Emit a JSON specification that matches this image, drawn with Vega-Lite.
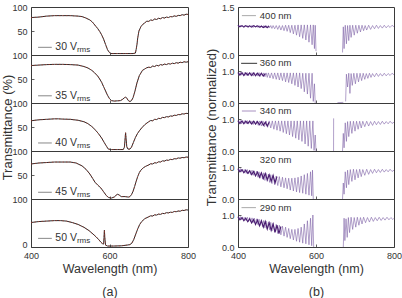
{
"$schema":"https://vega.github.io/schema/vega-lite/v6.json",
"padding":{"left":1,"top":2,"right":0,"bottom":0},
"columns":2,
"spacing":{"row":0,"column":50},
"bounds":"flush",
"datasets":{
"A":[
{"p":"30","w":400,"t":78},{"p":"30","w":420,"t":79},{"p":"30","w":440,"t":81},{"p":"30","w":460,"t":82},{"p":"30","w":480,"t":82},{"p":"30","w":500,"t":82},{"p":"30","w":510,"t":81.5},{"p":"30","w":520,"t":81},{"p":"30","w":530,"t":80},{"p":"30","w":540,"t":77},{"p":"30","w":550,"t":73},{"p":"30","w":556,"t":69},{"p":"30","w":560,"t":65},{"p":"30","w":565,"t":60},{"p":"30","w":570,"t":55},{"p":"30","w":575,"t":49},{"p":"30","w":580,"t":42},{"p":"30","w":585,"t":33},{"p":"30","w":590,"t":22},{"p":"30","w":595,"t":11},{"p":"30","w":600,"t":5},{"p":"30","w":603,"t":3},{"p":"30","w":620,"t":3},{"p":"30","w":640,"t":3},{"p":"30","w":660,"t":3},{"p":"30","w":666,"t":4},{"p":"30","w":668,"t":12},{"p":"30","w":670,"t":22},{"p":"30","w":672,"t":36},{"p":"30","w":675,"t":50},{"p":"30","w":680,"t":59},{"p":"30","w":685,"t":64},{"p":"30","w":690,"t":67},{"p":"30","w":695,"t":70.5},{"p":"30","w":700,"t":70},{"p":"30","w":705,"t":73},{"p":"30","w":710,"t":72},{"p":"30","w":715,"t":75},{"p":"30","w":720,"t":74},{"p":"30","w":725,"t":76.5},{"p":"30","w":730,"t":75.5},{"p":"30","w":735,"t":78},{"p":"30","w":740,"t":77},{"p":"30","w":745,"t":79},{"p":"30","w":750,"t":78},{"p":"30","w":755,"t":80},{"p":"30","w":760,"t":79.5},{"p":"30","w":765,"t":81.5},{"p":"30","w":770,"t":80.5},{"p":"30","w":775,"t":82.5},{"p":"30","w":780,"t":82},{"p":"30","w":785,"t":84},{"p":"30","w":790,"t":83},{"p":"30","w":795,"t":85},{"p":"30","w":800,"t":84.5},
{"p":"35","w":400,"t":78},{"p":"35","w":420,"t":79},{"p":"35","w":440,"t":80},{"p":"35","w":460,"t":80.5},{"p":"35","w":480,"t":80.5},{"p":"35","w":500,"t":80},{"p":"35","w":520,"t":79},{"p":"35","w":535,"t":76},{"p":"35","w":545,"t":73},{"p":"35","w":555,"t":68},{"p":"35","w":562,"t":63},{"p":"35","w":570,"t":56},{"p":"35","w":575,"t":50},{"p":"35","w":580,"t":43},{"p":"35","w":585,"t":34},{"p":"35","w":590,"t":25},{"p":"35","w":595,"t":16},{"p":"35","w":600,"t":9},{"p":"35","w":605,"t":5},{"p":"35","w":612,"t":4},{"p":"35","w":620,"t":4.5},{"p":"35","w":628,"t":5},{"p":"35","w":634,"t":8},{"p":"35","w":638,"t":11},{"p":"35","w":641,"t":12.5},{"p":"35","w":644,"t":10},{"p":"35","w":648,"t":5},{"p":"35","w":652,"t":3},{"p":"35","w":656,"t":5},{"p":"35","w":660,"t":11},{"p":"35","w":665,"t":25},{"p":"35","w":670,"t":42},{"p":"35","w":676,"t":57},{"p":"35","w":684,"t":68},{"p":"35","w":690,"t":71},{"p":"35","w":695,"t":73.5},{"p":"35","w":700,"t":74.5},{"p":"35","w":705,"t":74},{"p":"35","w":710,"t":77},{"p":"35","w":715,"t":76},{"p":"35","w":720,"t":78.5},{"p":"35","w":725,"t":77.5},{"p":"35","w":730,"t":80},{"p":"35","w":735,"t":79},{"p":"35","w":740,"t":81},{"p":"35","w":745,"t":80},{"p":"35","w":750,"t":82},{"p":"35","w":755,"t":81},{"p":"35","w":760,"t":83},{"p":"35","w":765,"t":82},{"p":"35","w":770,"t":84},{"p":"35","w":775,"t":83},{"p":"35","w":780,"t":85},{"p":"35","w":785,"t":84},{"p":"35","w":790,"t":86},{"p":"35","w":795,"t":85},{"p":"35","w":800,"t":86},
{"p":"40","w":400,"t":63},{"p":"40","w":420,"t":65},{"p":"40","w":440,"t":66},{"p":"40","w":460,"t":67},{"p":"40","w":470,"t":67},{"p":"40","w":480,"t":66.5},{"p":"40","w":500,"t":66},{"p":"40","w":520,"t":64},{"p":"40","w":535,"t":61},{"p":"40","w":545,"t":57},{"p":"40","w":555,"t":51},{"p":"40","w":565,"t":43},{"p":"40","w":572,"t":36},{"p":"40","w":580,"t":27},{"p":"40","w":587,"t":17},{"p":"40","w":593,"t":9},{"p":"40","w":597,"t":4},{"p":"40","w":605,"t":3},{"p":"40","w":620,"t":3},{"p":"40","w":635,"t":3},{"p":"40","w":638,"t":8},{"p":"40","w":640,"t":28},{"p":"40","w":641,"t":38},{"p":"40","w":642,"t":28},{"p":"40","w":644,"t":9},{"p":"40","w":647,"t":4},{"p":"40","w":652,"t":4},{"p":"40","w":656,"t":8},{"p":"40","w":661,"t":18},{"p":"40","w":666,"t":28},{"p":"40","w":671,"t":36},{"p":"40","w":676,"t":42},{"p":"40","w":682,"t":48},{"p":"40","w":690,"t":55},{"p":"40","w":700,"t":61},{"p":"40","w":705,"t":63.5},{"p":"40","w":710,"t":63},{"p":"40","w":715,"t":66},{"p":"40","w":720,"t":65.5},{"p":"40","w":725,"t":68},{"p":"40","w":730,"t":67.5},{"p":"40","w":735,"t":70},{"p":"40","w":740,"t":69.5},{"p":"40","w":745,"t":71.5},{"p":"40","w":750,"t":71},{"p":"40","w":755,"t":73},{"p":"40","w":760,"t":72.5},{"p":"40","w":765,"t":74.5},{"p":"40","w":770,"t":74},{"p":"40","w":775,"t":76},{"p":"40","w":780,"t":75.5},{"p":"40","w":785,"t":77.5},{"p":"40","w":790,"t":77},{"p":"40","w":795,"t":78.5},{"p":"40","w":800,"t":78},
{"p":"45","w":400,"t":73},{"p":"45","w":420,"t":75},{"p":"45","w":440,"t":76},{"p":"45","w":460,"t":77},{"p":"45","w":480,"t":77},{"p":"45","w":500,"t":77},{"p":"45","w":515,"t":75},{"p":"45","w":530,"t":69},{"p":"45","w":540,"t":62},{"p":"45","w":550,"t":52},{"p":"45","w":557,"t":43},{"p":"45","w":563,"t":35},{"p":"45","w":570,"t":29},{"p":"45","w":578,"t":23},{"p":"45","w":585,"t":15},{"p":"45","w":592,"t":7},{"p":"45","w":598,"t":3},{"p":"45","w":605,"t":2},{"p":"45","w":612,"t":4},{"p":"45","w":617,"t":8},{"p":"45","w":621,"t":10},{"p":"45","w":625,"t":8},{"p":"45","w":630,"t":5},{"p":"45","w":640,"t":5},{"p":"45","w":648,"t":4},{"p":"45","w":652,"t":5},{"p":"45","w":656,"t":9},{"p":"45","w":660,"t":16},{"p":"45","w":664,"t":26},{"p":"45","w":668,"t":37},{"p":"45","w":672,"t":47},{"p":"45","w":676,"t":55},{"p":"45","w":680,"t":60},{"p":"45","w":686,"t":65},{"p":"45","w":692,"t":68},{"p":"45","w":700,"t":71},{"p":"45","w":705,"t":73.5},{"p":"45","w":710,"t":73},{"p":"45","w":715,"t":75.5},{"p":"45","w":720,"t":75},{"p":"45","w":725,"t":77.5},{"p":"45","w":730,"t":77},{"p":"45","w":735,"t":79.5},{"p":"45","w":740,"t":79},{"p":"45","w":745,"t":81},{"p":"45","w":750,"t":80.5},{"p":"45","w":755,"t":82.5},{"p":"45","w":760,"t":82},{"p":"45","w":765,"t":84},{"p":"45","w":770,"t":83.5},{"p":"45","w":775,"t":85.5},{"p":"45","w":780,"t":85},{"p":"45","w":785,"t":86.5},{"p":"45","w":790,"t":86},{"p":"45","w":795,"t":87.5},{"p":"45","w":800,"t":87},
{"p":"50","w":400,"t":51},{"p":"50","w":420,"t":53},{"p":"50","w":440,"t":54},{"p":"50","w":460,"t":55},{"p":"50","w":475,"t":55},{"p":"50","w":490,"t":54},{"p":"50","w":505,"t":51},{"p":"50","w":520,"t":47},{"p":"50","w":535,"t":41},{"p":"50","w":548,"t":34},{"p":"50","w":558,"t":27},{"p":"50","w":566,"t":21},{"p":"50","w":573,"t":15},{"p":"50","w":578,"t":10},{"p":"50","w":582,"t":7},{"p":"50","w":585,"t":6},{"p":"50","w":586,"t":20},{"p":"50","w":587,"t":35},{"p":"50","w":588,"t":20},{"p":"50","w":590,"t":4},{"p":"50","w":595,"t":2},{"p":"50","w":610,"t":2},{"p":"50","w":630,"t":2.5},{"p":"50","w":645,"t":4},{"p":"50","w":652,"t":5},{"p":"50","w":657,"t":8},{"p":"50","w":662,"t":16},{"p":"50","w":667,"t":27},{"p":"50","w":672,"t":38},{"p":"50","w":677,"t":47},{"p":"50","w":682,"t":53},{"p":"50","w":690,"t":59},{"p":"50","w":700,"t":63},{"p":"50","w":705,"t":65},{"p":"50","w":710,"t":64.5},{"p":"50","w":715,"t":67},{"p":"50","w":720,"t":66.5},{"p":"50","w":725,"t":68.5},{"p":"50","w":730,"t":68},{"p":"50","w":735,"t":70},{"p":"50","w":740,"t":69.5},{"p":"50","w":745,"t":71.5},{"p":"50","w":750,"t":71},{"p":"50","w":755,"t":72.5},{"p":"50","w":760,"t":72},{"p":"50","w":765,"t":74},{"p":"50","w":770,"t":73.5},{"p":"50","w":775,"t":75},{"p":"50","w":780,"t":74.5},{"p":"50","w":785,"t":76.5},{"p":"50","w":790,"t":76},{"p":"50","w":795,"t":77.5},{"p":"50","w":800,"t":77}
],
"B":[
{"p":"400","g":"L","w":400,"t":0.92},{"p":"400","g":"L","w":403,"t":0.87},{"p":"400","g":"L","w":406,"t":0.93},{"p":"400","g":"L","w":409,"t":0.88},{"p":"400","g":"L","w":412,"t":0.92},{"p":"400","g":"L","w":415,"t":0.87},{"p":"400","g":"L","w":418,"t":0.93},{"p":"400","g":"L","w":421,"t":0.88},{"p":"400","g":"L","w":424,"t":0.92},{"p":"400","g":"L","w":427,"t":0.86},{"p":"400","g":"L","w":430,"t":0.92},{"p":"400","g":"L","w":433,"t":0.87},{"p":"400","g":"L","w":436,"t":0.93},{"p":"400","g":"L","w":439,"t":0.86},{"p":"400","g":"L","w":442,"t":0.92},{"p":"400","g":"L","w":445,"t":0.87},{"p":"400","g":"L","w":448,"t":0.92},{"p":"400","g":"L","w":451,"t":0.86},{"p":"400","g":"L","w":454,"t":0.92},{"p":"400","g":"L","w":457,"t":0.85},{"p":"400","g":"L","w":460,"t":0.92},{"p":"400","g":"L","w":463,"t":0.86},{"p":"400","g":"L","w":466,"t":0.92},{"p":"400","g":"L","w":469,"t":0.85},{"p":"400","g":"L","w":472,"t":0.92},{"p":"400","g":"L","w":475,"t":0.84},{"p":"400","g":"L","w":478,"t":0.92},{"p":"400","g":"L","w":481,"t":0.85},{"p":"400","g":"L","w":484,"t":0.92},{"p":"400","g":"L","w":487,"t":0.83},{"p":"400","g":"L","w":490,"t":0.92},{"p":"400","g":"L","w":494,"t":0.82},{"p":"400","g":"L","w":498,"t":0.92},{"p":"400","g":"L","w":502,"t":0.8},{"p":"400","g":"L","w":506,"t":0.92},{"p":"400","g":"L","w":510,"t":0.78},{"p":"400","g":"L","w":514,"t":0.92},{"p":"400","g":"L","w":518,"t":0.76},{"p":"400","g":"L","w":522,"t":0.93},{"p":"400","g":"L","w":526,"t":0.74},{"p":"400","g":"L","w":530,"t":0.93},{"p":"400","g":"L","w":534,"t":0.7},{"p":"400","g":"L","w":538,"t":0.93},{"p":"400","g":"L","w":542,"t":0.66},{"p":"400","g":"L","w":546,"t":0.93},{"p":"400","g":"L","w":550,"t":0.62},{"p":"400","g":"L","w":554,"t":0.94},{"p":"400","g":"L","w":558,"t":0.57},{"p":"400","g":"L","w":562,"t":0.94},{"p":"400","g":"L","w":566,"t":0.52},{"p":"400","g":"L","w":570,"t":0.94},{"p":"400","g":"L","w":574,"t":0.47},{"p":"400","g":"L","w":578,"t":0.94},{"p":"400","g":"L","w":582,"t":0.4},{"p":"400","g":"L","w":586,"t":0.94},{"p":"400","g":"L","w":590,"t":0.32},{"p":"400","g":"L","w":593,"t":0.94},{"p":"400","g":"L","w":596,"t":0.2},{"p":"400","g":"L","w":598,"t":0.93},{"p":"400","g":"L","w":600,"t":0.12},
{"p":"400","g":"R","w":668,"t":0.08},{"p":"400","g":"R","w":670,"t":0.88},{"p":"400","g":"R","w":672,"t":0.2},{"p":"400","g":"R","w":675,"t":0.93},{"p":"400","g":"R","w":678,"t":0.35},{"p":"400","g":"R","w":681,"t":0.92},{"p":"400","g":"R","w":684,"t":0.45},{"p":"400","g":"R","w":687,"t":0.93},{"p":"400","g":"R","w":690,"t":0.55},{"p":"400","g":"R","w":694,"t":0.93},{"p":"400","g":"R","w":698,"t":0.62},{"p":"400","g":"R","w":702,"t":0.93},{"p":"400","g":"R","w":706,"t":0.68},{"p":"400","g":"R","w":710,"t":0.93},{"p":"400","g":"R","w":714,"t":0.72},{"p":"400","g":"R","w":718,"t":0.93},{"p":"400","g":"R","w":722,"t":0.76},{"p":"400","g":"R","w":726,"t":0.92},{"p":"400","g":"R","w":730,"t":0.78},{"p":"400","g":"R","w":735,"t":0.93},{"p":"400","g":"R","w":740,"t":0.8},{"p":"400","g":"R","w":745,"t":0.92},{"p":"400","g":"R","w":750,"t":0.82},{"p":"400","g":"R","w":755,"t":0.93},{"p":"400","g":"R","w":760,"t":0.83},{"p":"400","g":"R","w":765,"t":0.92},{"p":"400","g":"R","w":770,"t":0.84},{"p":"400","g":"R","w":775,"t":0.93},{"p":"400","g":"R","w":780,"t":0.85},{"p":"400","g":"R","w":785,"t":0.92},{"p":"400","g":"R","w":790,"t":0.86},{"p":"400","g":"R","w":795,"t":0.93},{"p":"400","g":"R","w":800,"t":0.88},
{"p":"400","g":"D","w":400,"t":0.93},{"p":"400","g":"D","w":405,"t":0.88},{"p":"400","g":"D","w":410,"t":0.92},{"p":"400","g":"D","w":415,"t":0.87},{"p":"400","g":"D","w":420,"t":0.92},{"p":"400","g":"D","w":425,"t":0.88},{"p":"400","g":"D","w":430,"t":0.91},{"p":"400","g":"D","w":435,"t":0.87},{"p":"400","g":"D","w":440,"t":0.92},{"p":"400","g":"D","w":445,"t":0.88},{"p":"400","g":"D","w":450,"t":0.91},{"p":"400","g":"D","w":455,"t":0.87},{"p":"400","g":"D","w":460,"t":0.9},{"p":"400","g":"D","w":465,"t":0.86},{"p":"400","g":"D","w":470,"t":0.9},{"p":"400","g":"D","w":475,"t":0.86},{"p":"400","g":"D","w":480,"t":0.9},
{"p":"360","g":"L","w":400,"t":0.95},{"p":"360","g":"L","w":403,"t":0.86},{"p":"360","g":"L","w":406,"t":0.96},{"p":"360","g":"L","w":409,"t":0.87},{"p":"360","g":"L","w":412,"t":0.95},{"p":"360","g":"L","w":415,"t":0.85},{"p":"360","g":"L","w":418,"t":0.96},{"p":"360","g":"L","w":421,"t":0.86},{"p":"360","g":"L","w":424,"t":0.95},{"p":"360","g":"L","w":427,"t":0.85},{"p":"360","g":"L","w":430,"t":0.95},{"p":"360","g":"L","w":433,"t":0.86},{"p":"360","g":"L","w":436,"t":0.95},{"p":"360","g":"L","w":439,"t":0.84},{"p":"360","g":"L","w":442,"t":0.95},{"p":"360","g":"L","w":445,"t":0.85},{"p":"360","g":"L","w":448,"t":0.94},{"p":"360","g":"L","w":451,"t":0.84},{"p":"360","g":"L","w":454,"t":0.95},{"p":"360","g":"L","w":457,"t":0.83},{"p":"360","g":"L","w":460,"t":0.94},{"p":"360","g":"L","w":463,"t":0.84},{"p":"360","g":"L","w":466,"t":0.94},{"p":"360","g":"L","w":469,"t":0.82},{"p":"360","g":"L","w":472,"t":0.94},{"p":"360","g":"L","w":475,"t":0.8},{"p":"360","g":"L","w":478,"t":0.94},{"p":"360","g":"L","w":482,"t":0.78},{"p":"360","g":"L","w":486,"t":0.94},{"p":"360","g":"L","w":490,"t":0.76},{"p":"360","g":"L","w":494,"t":0.94},{"p":"360","g":"L","w":498,"t":0.74},{"p":"360","g":"L","w":502,"t":0.94},{"p":"360","g":"L","w":506,"t":0.72},{"p":"360","g":"L","w":510,"t":0.94},{"p":"360","g":"L","w":514,"t":0.7},{"p":"360","g":"L","w":518,"t":0.94},{"p":"360","g":"L","w":522,"t":0.66},{"p":"360","g":"L","w":526,"t":0.94},{"p":"360","g":"L","w":530,"t":0.64},{"p":"360","g":"L","w":534,"t":0.94},{"p":"360","g":"L","w":538,"t":0.6},{"p":"360","g":"L","w":542,"t":0.94},{"p":"360","g":"L","w":546,"t":0.55},{"p":"360","g":"L","w":550,"t":0.94},{"p":"360","g":"L","w":554,"t":0.5},{"p":"360","g":"L","w":558,"t":0.94},{"p":"360","g":"L","w":562,"t":0.45},{"p":"360","g":"L","w":566,"t":0.93},{"p":"360","g":"L","w":570,"t":0.35},{"p":"360","g":"L","w":574,"t":0.93},{"p":"360","g":"L","w":578,"t":0.28},{"p":"360","g":"L","w":582,"t":0.93},{"p":"360","g":"L","w":586,"t":0.15},{"p":"360","g":"L","w":590,"t":0.93},{"p":"360","g":"L","w":593,"t":0.05},{"p":"360","g":"L","w":596,"t":0.6},{"p":"360","g":"L","w":598,"t":0},
{"p":"360","g":"M","w":655,"t":0.01},{"p":"360","g":"M","w":670,"t":0.02},
{"p":"360","g":"R","w":676,"t":0.05},{"p":"360","g":"R","w":678,"t":0.9},{"p":"360","g":"R","w":681,"t":0.5},{"p":"360","g":"R","w":684,"t":0.93},{"p":"360","g":"R","w":687,"t":0.3},{"p":"360","g":"R","w":690,"t":0.92},{"p":"360","g":"R","w":693,"t":0.55},{"p":"360","g":"R","w":697,"t":0.93},{"p":"360","g":"R","w":701,"t":0.6},{"p":"360","g":"R","w":705,"t":0.93},{"p":"360","g":"R","w":709,"t":0.66},{"p":"360","g":"R","w":713,"t":0.93},{"p":"360","g":"R","w":717,"t":0.7},{"p":"360","g":"R","w":721,"t":0.93},{"p":"360","g":"R","w":725,"t":0.74},{"p":"360","g":"R","w":729,"t":0.92},{"p":"360","g":"R","w":733,"t":0.77},{"p":"360","g":"R","w":737,"t":0.93},{"p":"360","g":"R","w":741,"t":0.8},{"p":"360","g":"R","w":745,"t":0.92},{"p":"360","g":"R","w":750,"t":0.82},{"p":"360","g":"R","w":755,"t":0.93},{"p":"360","g":"R","w":760,"t":0.83},{"p":"360","g":"R","w":765,"t":0.92},{"p":"360","g":"R","w":770,"t":0.84},{"p":"360","g":"R","w":775,"t":0.93},{"p":"360","g":"R","w":780,"t":0.85},{"p":"360","g":"R","w":785,"t":0.92},{"p":"360","g":"R","w":790,"t":0.86},{"p":"360","g":"R","w":795,"t":0.93},{"p":"360","g":"R","w":800,"t":0.88},
{"p":"360","g":"D","w":400,"t":0.95},{"p":"360","g":"D","w":405,"t":0.87},{"p":"360","g":"D","w":410,"t":0.95},{"p":"360","g":"D","w":415,"t":0.86},{"p":"360","g":"D","w":420,"t":0.94},{"p":"360","g":"D","w":425,"t":0.87},{"p":"360","g":"D","w":430,"t":0.94},{"p":"360","g":"D","w":435,"t":0.86},{"p":"360","g":"D","w":440,"t":0.94},{"p":"360","g":"D","w":445,"t":0.85},{"p":"360","g":"D","w":450,"t":0.93},{"p":"360","g":"D","w":455,"t":0.85},{"p":"360","g":"D","w":460,"t":0.93},{"p":"360","g":"D","w":465,"t":0.84},{"p":"360","g":"D","w":470,"t":0.92},
{"p":"340","g":"L","w":400,"t":0.95},{"p":"340","g":"L","w":403,"t":0.86},{"p":"340","g":"L","w":406,"t":0.95},{"p":"340","g":"L","w":409,"t":0.85},{"p":"340","g":"L","w":412,"t":0.95},{"p":"340","g":"L","w":415,"t":0.86},{"p":"340","g":"L","w":418,"t":0.95},{"p":"340","g":"L","w":421,"t":0.85},{"p":"340","g":"L","w":424,"t":0.95},{"p":"340","g":"L","w":427,"t":0.84},{"p":"340","g":"L","w":430,"t":0.95},{"p":"340","g":"L","w":433,"t":0.85},{"p":"340","g":"L","w":436,"t":0.94},{"p":"340","g":"L","w":439,"t":0.83},{"p":"340","g":"L","w":442,"t":0.94},{"p":"340","g":"L","w":445,"t":0.82},{"p":"340","g":"L","w":448,"t":0.94},{"p":"340","g":"L","w":452,"t":0.8},{"p":"340","g":"L","w":456,"t":0.94},{"p":"340","g":"L","w":460,"t":0.78},{"p":"340","g":"L","w":464,"t":0.94},{"p":"340","g":"L","w":468,"t":0.76},{"p":"340","g":"L","w":472,"t":0.94},{"p":"340","g":"L","w":476,"t":0.74},{"p":"340","g":"L","w":480,"t":0.94},{"p":"340","g":"L","w":484,"t":0.72},{"p":"340","g":"L","w":488,"t":0.94},{"p":"340","g":"L","w":492,"t":0.68},{"p":"340","g":"L","w":496,"t":0.94},{"p":"340","g":"L","w":500,"t":0.65},{"p":"340","g":"L","w":504,"t":0.94},{"p":"340","g":"L","w":508,"t":0.62},{"p":"340","g":"L","w":512,"t":0.94},{"p":"340","g":"L","w":516,"t":0.58},{"p":"340","g":"L","w":520,"t":0.94},{"p":"340","g":"L","w":524,"t":0.54},{"p":"340","g":"L","w":528,"t":0.94},{"p":"340","g":"L","w":532,"t":0.5},{"p":"340","g":"L","w":536,"t":0.94},{"p":"340","g":"L","w":540,"t":0.45},{"p":"340","g":"L","w":544,"t":0.94},{"p":"340","g":"L","w":548,"t":0.4},{"p":"340","g":"L","w":552,"t":0.94},{"p":"340","g":"L","w":556,"t":0.35},{"p":"340","g":"L","w":560,"t":0.94},{"p":"340","g":"L","w":564,"t":0.3},{"p":"340","g":"L","w":568,"t":0.94},{"p":"340","g":"L","w":572,"t":0.22},{"p":"340","g":"L","w":576,"t":0.94},{"p":"340","g":"L","w":580,"t":0.15},{"p":"340","g":"L","w":584,"t":0.94},{"p":"340","g":"L","w":588,"t":0.08},{"p":"340","g":"L","w":592,"t":0.94},{"p":"340","g":"L","w":595,"t":0.02},{"p":"340","g":"L","w":598,"t":0.5},{"p":"340","g":"L","w":600,"t":0},
{"p":"340","g":"V","w":645,"t":0},{"p":"340","g":"V","w":645.2,"t":1.02},
{"p":"340","g":"R","w":668,"t":0},{"p":"340","g":"R","w":670,"t":0.55},{"p":"340","g":"R","w":672,"t":0.1},{"p":"340","g":"R","w":675,"t":0.88},{"p":"340","g":"R","w":678,"t":0.3},{"p":"340","g":"R","w":681,"t":0.92},{"p":"340","g":"R","w":684,"t":0.45},{"p":"340","g":"R","w":688,"t":0.93},{"p":"340","g":"R","w":692,"t":0.55},{"p":"340","g":"R","w":696,"t":0.93},{"p":"340","g":"R","w":700,"t":0.62},{"p":"340","g":"R","w":704,"t":0.93},{"p":"340","g":"R","w":708,"t":0.68},{"p":"340","g":"R","w":712,"t":0.93},{"p":"340","g":"R","w":716,"t":0.72},{"p":"340","g":"R","w":720,"t":0.93},{"p":"340","g":"R","w":725,"t":0.76},{"p":"340","g":"R","w":730,"t":0.93},{"p":"340","g":"R","w":735,"t":0.78},{"p":"340","g":"R","w":740,"t":0.92},{"p":"340","g":"R","w":745,"t":0.8},{"p":"340","g":"R","w":750,"t":0.93},{"p":"340","g":"R","w":755,"t":0.82},{"p":"340","g":"R","w":760,"t":0.92},{"p":"340","g":"R","w":765,"t":0.83},{"p":"340","g":"R","w":770,"t":0.93},{"p":"340","g":"R","w":775,"t":0.84},{"p":"340","g":"R","w":780,"t":0.92},{"p":"340","g":"R","w":785,"t":0.85},{"p":"340","g":"R","w":790,"t":0.93},{"p":"340","g":"R","w":795,"t":0.86},{"p":"340","g":"R","w":800,"t":0.9},
{"p":"340","g":"D","w":400,"t":0.94},{"p":"340","g":"D","w":405,"t":0.86},{"p":"340","g":"D","w":410,"t":0.94},{"p":"340","g":"D","w":415,"t":0.85},{"p":"340","g":"D","w":420,"t":0.93},{"p":"340","g":"D","w":425,"t":0.86},{"p":"340","g":"D","w":430,"t":0.93},{"p":"340","g":"D","w":435,"t":0.84},{"p":"340","g":"D","w":440,"t":0.93},{"p":"340","g":"D","w":445,"t":0.84},{"p":"340","g":"D","w":450,"t":0.92},{"p":"340","g":"D","w":455,"t":0.82},{"p":"340","g":"D","w":460,"t":0.92},{"p":"340","g":"D","w":465,"t":0.8},{"p":"340","g":"D","w":470,"t":0.9},{"p":"340","g":"D","w":475,"t":0.78},{"p":"340","g":"D","w":480,"t":0.9},
{"p":"320","g":"L","w":400,"t":0.95},{"p":"320","g":"L","w":403,"t":0.85},{"p":"320","g":"L","w":406,"t":0.95},{"p":"320","g":"L","w":409,"t":0.84},{"p":"320","g":"L","w":412,"t":0.93},{"p":"320","g":"L","w":415,"t":0.82},{"p":"320","g":"L","w":418,"t":0.93},{"p":"320","g":"L","w":421,"t":0.8},{"p":"320","g":"L","w":424,"t":0.92},{"p":"320","g":"L","w":427,"t":0.78},{"p":"320","g":"L","w":430,"t":0.9},{"p":"320","g":"L","w":433,"t":0.76},{"p":"320","g":"L","w":436,"t":0.9},{"p":"320","g":"L","w":439,"t":0.74},{"p":"320","g":"L","w":442,"t":0.88},{"p":"320","g":"L","w":445,"t":0.72},{"p":"320","g":"L","w":448,"t":0.87},{"p":"320","g":"L","w":451,"t":0.68},{"p":"320","g":"L","w":454,"t":0.85},{"p":"320","g":"L","w":457,"t":0.65},{"p":"320","g":"L","w":460,"t":0.83},{"p":"320","g":"L","w":463,"t":0.62},{"p":"320","g":"L","w":466,"t":0.82},{"p":"320","g":"L","w":469,"t":0.58},{"p":"320","g":"L","w":472,"t":0.8},{"p":"320","g":"L","w":475,"t":0.55},{"p":"320","g":"L","w":478,"t":0.78},{"p":"320","g":"L","w":481,"t":0.52},{"p":"320","g":"L","w":484,"t":0.76},{"p":"320","g":"L","w":487,"t":0.48},{"p":"320","g":"L","w":490,"t":0.74},{"p":"320","g":"L","w":494,"t":0.45},{"p":"320","g":"L","w":498,"t":0.72},{"p":"320","g":"L","w":502,"t":0.42},{"p":"320","g":"L","w":506,"t":0.7},{"p":"320","g":"L","w":510,"t":0.38},{"p":"320","g":"L","w":514,"t":0.68},{"p":"320","g":"L","w":518,"t":0.35},{"p":"320","g":"L","w":522,"t":0.66},{"p":"320","g":"L","w":526,"t":0.32},{"p":"320","g":"L","w":530,"t":0.65},{"p":"320","g":"L","w":534,"t":0.28},{"p":"320","g":"L","w":538,"t":0.65},{"p":"320","g":"L","w":542,"t":0.25},{"p":"320","g":"L","w":546,"t":0.66},{"p":"320","g":"L","w":550,"t":0.22},{"p":"320","g":"L","w":554,"t":0.68},{"p":"320","g":"L","w":558,"t":0.2},{"p":"320","g":"L","w":562,"t":0.72},{"p":"320","g":"L","w":566,"t":0.18},{"p":"320","g":"L","w":570,"t":0.76},{"p":"320","g":"L","w":574,"t":0.15},{"p":"320","g":"L","w":578,"t":0.8},{"p":"320","g":"L","w":582,"t":0.12},{"p":"320","g":"L","w":586,"t":0.85},{"p":"320","g":"L","w":589,"t":0.1},{"p":"320","g":"L","w":591,"t":0.9},{"p":"320","g":"L","w":593,"t":0},
{"p":"320","g":"R","w":668,"t":0},{"p":"320","g":"R","w":670,"t":0.5},{"p":"320","g":"R","w":672,"t":0.15},{"p":"320","g":"R","w":675,"t":0.85},{"p":"320","g":"R","w":678,"t":0.35},{"p":"320","g":"R","w":681,"t":0.9},{"p":"320","g":"R","w":684,"t":0.45},{"p":"320","g":"R","w":688,"t":0.92},{"p":"320","g":"R","w":692,"t":0.55},{"p":"320","g":"R","w":696,"t":0.93},{"p":"320","g":"R","w":700,"t":0.6},{"p":"320","g":"R","w":704,"t":0.92},{"p":"320","g":"R","w":708,"t":0.66},{"p":"320","g":"R","w":712,"t":0.93},{"p":"320","g":"R","w":716,"t":0.7},{"p":"320","g":"R","w":720,"t":0.92},{"p":"320","g":"R","w":725,"t":0.74},{"p":"320","g":"R","w":730,"t":0.93},{"p":"320","g":"R","w":735,"t":0.77},{"p":"320","g":"R","w":740,"t":0.92},{"p":"320","g":"R","w":745,"t":0.8},{"p":"320","g":"R","w":750,"t":0.93},{"p":"320","g":"R","w":755,"t":0.82},{"p":"320","g":"R","w":760,"t":0.92},{"p":"320","g":"R","w":765,"t":0.83},{"p":"320","g":"R","w":770,"t":0.93},{"p":"320","g":"R","w":775,"t":0.84},{"p":"320","g":"R","w":780,"t":0.92},{"p":"320","g":"R","w":785,"t":0.85},{"p":"320","g":"R","w":790,"t":0.93},{"p":"320","g":"R","w":795,"t":0.86},{"p":"320","g":"R","w":800,"t":0.9},
{"p":"320","g":"D","w":400,"t":0.94},{"p":"320","g":"D","w":405,"t":0.85},{"p":"320","g":"D","w":410,"t":0.92},{"p":"320","g":"D","w":415,"t":0.82},{"p":"320","g":"D","w":420,"t":0.9},{"p":"320","g":"D","w":425,"t":0.8},{"p":"320","g":"D","w":430,"t":0.88},{"p":"320","g":"D","w":435,"t":0.76},{"p":"320","g":"D","w":440,"t":0.86},{"p":"320","g":"D","w":445,"t":0.72},{"p":"320","g":"D","w":450,"t":0.84},{"p":"320","g":"D","w":455,"t":0.68},{"p":"320","g":"D","w":460,"t":0.82},{"p":"320","g":"D","w":465,"t":0.64},{"p":"320","g":"D","w":470,"t":0.8},{"p":"320","g":"D","w":475,"t":0.6},{"p":"320","g":"D","w":480,"t":0.76},{"p":"320","g":"D","w":485,"t":0.55},{"p":"320","g":"D","w":490,"t":0.74},{"p":"320","g":"D","w":495,"t":0.5},{"p":"320","g":"D","w":500,"t":0.7},
{"p":"290","g":"L","w":400,"t":0.95},{"p":"290","g":"L","w":403,"t":0.86},{"p":"290","g":"L","w":406,"t":0.95},{"p":"290","g":"L","w":409,"t":0.85},{"p":"290","g":"L","w":412,"t":0.94},{"p":"290","g":"L","w":415,"t":0.84},{"p":"290","g":"L","w":418,"t":0.93},{"p":"290","g":"L","w":421,"t":0.82},{"p":"290","g":"L","w":424,"t":0.93},{"p":"290","g":"L","w":427,"t":0.8},{"p":"290","g":"L","w":430,"t":0.92},{"p":"290","g":"L","w":433,"t":0.78},{"p":"290","g":"L","w":436,"t":0.91},{"p":"290","g":"L","w":439,"t":0.76},{"p":"290","g":"L","w":442,"t":0.9},{"p":"290","g":"L","w":445,"t":0.73},{"p":"290","g":"L","w":448,"t":0.88},{"p":"290","g":"L","w":451,"t":0.7},{"p":"290","g":"L","w":454,"t":0.87},{"p":"290","g":"L","w":457,"t":0.67},{"p":"290","g":"L","w":460,"t":0.85},{"p":"290","g":"L","w":463,"t":0.64},{"p":"290","g":"L","w":466,"t":0.83},{"p":"290","g":"L","w":469,"t":0.6},{"p":"290","g":"L","w":472,"t":0.81},{"p":"290","g":"L","w":475,"t":0.57},{"p":"290","g":"L","w":478,"t":0.79},{"p":"290","g":"L","w":481,"t":0.54},{"p":"290","g":"L","w":484,"t":0.77},{"p":"290","g":"L","w":487,"t":0.5},{"p":"290","g":"L","w":490,"t":0.74},{"p":"290","g":"L","w":494,"t":0.46},{"p":"290","g":"L","w":498,"t":0.71},{"p":"290","g":"L","w":502,"t":0.42},{"p":"290","g":"L","w":506,"t":0.68},{"p":"290","g":"L","w":510,"t":0.38},{"p":"290","g":"L","w":514,"t":0.65},{"p":"290","g":"L","w":518,"t":0.34},{"p":"290","g":"L","w":522,"t":0.62},{"p":"290","g":"L","w":526,"t":0.3},{"p":"290","g":"L","w":530,"t":0.58},{"p":"290","g":"L","w":534,"t":0.26},{"p":"290","g":"L","w":538,"t":0.55},{"p":"290","g":"L","w":542,"t":0.22},{"p":"290","g":"L","w":546,"t":0.55},{"p":"290","g":"L","w":550,"t":0.18},{"p":"290","g":"L","w":554,"t":0.58},{"p":"290","g":"L","w":558,"t":0.15},{"p":"290","g":"L","w":562,"t":0.62},{"p":"290","g":"L","w":566,"t":0.12},{"p":"290","g":"L","w":570,"t":0.72},{"p":"290","g":"L","w":574,"t":0.1},{"p":"290","g":"L","w":578,"t":0.82},{"p":"290","g":"L","w":582,"t":0.07},{"p":"290","g":"L","w":586,"t":0.9},{"p":"290","g":"L","w":589,"t":0.04},{"p":"290","g":"L","w":592,"t":1.0},{"p":"290","g":"L","w":594,"t":0},
{"p":"290","g":"R","w":670,"t":0},{"p":"290","g":"R","w":672,"t":0.9},{"p":"290","g":"R","w":674,"t":0.2},{"p":"290","g":"R","w":677,"t":0.88},{"p":"290","g":"R","w":680,"t":0.3},{"p":"290","g":"R","w":683,"t":0.92},{"p":"290","g":"R","w":686,"t":0.45},{"p":"290","g":"R","w":690,"t":0.93},{"p":"290","g":"R","w":694,"t":0.55},{"p":"290","g":"R","w":698,"t":0.92},{"p":"290","g":"R","w":702,"t":0.62},{"p":"290","g":"R","w":706,"t":0.93},{"p":"290","g":"R","w":710,"t":0.68},{"p":"290","g":"R","w":714,"t":0.92},{"p":"290","g":"R","w":718,"t":0.72},{"p":"290","g":"R","w":722,"t":0.93},{"p":"290","g":"R","w":727,"t":0.76},{"p":"290","g":"R","w":732,"t":0.92},{"p":"290","g":"R","w":737,"t":0.78},{"p":"290","g":"R","w":742,"t":0.93},{"p":"290","g":"R","w":747,"t":0.8},{"p":"290","g":"R","w":752,"t":0.92},{"p":"290","g":"R","w":757,"t":0.82},{"p":"290","g":"R","w":762,"t":0.93},{"p":"290","g":"R","w":767,"t":0.83},{"p":"290","g":"R","w":772,"t":0.92},{"p":"290","g":"R","w":777,"t":0.84},{"p":"290","g":"R","w":782,"t":0.93},{"p":"290","g":"R","w":787,"t":0.85},{"p":"290","g":"R","w":792,"t":0.92},{"p":"290","g":"R","w":797,"t":0.86},{"p":"290","g":"R","w":800,"t":0.9},
{"p":"290","g":"D","w":400,"t":0.94},{"p":"290","g":"D","w":405,"t":0.85},{"p":"290","g":"D","w":410,"t":0.92},{"p":"290","g":"D","w":415,"t":0.82},{"p":"290","g":"D","w":420,"t":0.9},{"p":"290","g":"D","w":425,"t":0.79},{"p":"290","g":"D","w":430,"t":0.88},{"p":"290","g":"D","w":435,"t":0.75},{"p":"290","g":"D","w":440,"t":0.86},{"p":"290","g":"D","w":445,"t":0.7},{"p":"290","g":"D","w":450,"t":0.84},{"p":"290","g":"D","w":455,"t":0.66},{"p":"290","g":"D","w":460,"t":0.82},{"p":"290","g":"D","w":465,"t":0.62},{"p":"290","g":"D","w":470,"t":0.8},{"p":"290","g":"D","w":475,"t":0.56},{"p":"290","g":"D","w":480,"t":0.76},{"p":"290","g":"D","w":485,"t":0.52},{"p":"290","g":"D","w":490,"t":0.72},{"p":"290","g":"D","w":495,"t":0.46},{"p":"290","g":"D","w":500,"t":0.68},{"p":"290","g":"D","w":505,"t":0.42},{"p":"290","g":"D","w":510,"t":0.64}
]
},
"concat":[
{"width":157,"height":48,"layer":[
 {"data":{"name":"A"},"transform":[{"filter":"datum.p=='30'"}],"mark":{"type":"line","color":"#2a2a2a","strokeWidth":1},"encoding":{"x":{"field":"w","type":"quantitative","scale":{"domain":[400,800],"nice":false,"zero":false},"axis":{"values":[400,450,500,550,600,650,700,750,800],"labels":false,"title":null}},"y":{"field":"t","type":"quantitative","scale":{"domain":[0,100],"nice":false},"axis":{"values":[50,100],"title":null}}}},
 {"data":{"name":"A"},"transform":[{"filter":"datum.p=='30'"}],"mark":{"type":"line","color":"#c0392b","strokeWidth":0.6,"strokeDash":[1.5,2]},"encoding":{"x":{"field":"w","type":"quantitative"},"y":{"field":"t","type":"quantitative"}}},
 {"data":{"values":[{}]},"mark":{"type":"rule","color":"#888"},"encoding":{"x":{"datum":418},"x2":{"datum":453},"y":{"datum":16}}},
 {"data":{"values":[{}]},"mark":{"type":"text","text":"30 V","align":"left","baseline":"middle","fontSize":10.5,"color":"#333"},"encoding":{"x":{"datum":462},"y":{"datum":16}}},
 {"data":{"values":[{}]},"mark":{"type":"text","text":"rms","align":"left","baseline":"middle","fontSize":8,"dy":3,"color":"#333"},"encoding":{"x":{"datum":517},"y":{"datum":16}}}
]},
{"width":156,"height":48,"layer":[
 {"data":{"name":"B"},"transform":[{"filter":"datum.p=='400' && datum.g!='D'"}],"mark":{"type":"line","color":"#7d62a6","strokeWidth":0.6},"encoding":{"x":{"field":"w","type":"quantitative","scale":{"domain":[400,800],"nice":false,"zero":false},"axis":{"values":[400,450,500,550,600,650,700,750,800],"labels":false,"title":null}},"y":{"field":"t","type":"quantitative","scale":{"domain":[0,1.5],"nice":false},"axis":{"values":[0,0.5,1,1.5],"format":".1f","title":null}},"detail":{"field":"g"}}},
 {"data":{"name":"B"},"transform":[{"filter":"datum.p=='400' && datum.g=='D'"}],"mark":{"type":"line","color":"#4a1c70","strokeWidth":1.1},"encoding":{"x":{"field":"w","type":"quantitative"},"y":{"field":"t","type":"quantitative"}}},
 {"data":{"values":[{}]},"mark":{"type":"rule","color":"#aaa"},"encoding":{"x":{"datum":410},"x2":{"datum":446},"y":{"datum":1.23}}},
 {"data":{"values":[{}]},"mark":{"type":"text","text":"400 nm","align":"left","baseline":"middle","fontSize":9.5,"color":"#333"},"encoding":{"x":{"datum":456},"y":{"datum":1.23}}}
]},
{"width":157,"height":48,"layer":[
 {"data":{"name":"A"},"transform":[{"filter":"datum.p=='35'"}],"mark":{"type":"line","color":"#2a2a2a","strokeWidth":1},"encoding":{"x":{"field":"w","type":"quantitative","scale":{"domain":[400,800],"nice":false,"zero":false},"axis":{"values":[400,450,500,550,600,650,700,750,800],"labels":false,"title":null}},"y":{"field":"t","type":"quantitative","scale":{"domain":[0,100],"nice":false},"axis":{"values":[50,100],"title":null}}}},
 {"data":{"name":"A"},"transform":[{"filter":"datum.p=='35'"}],"mark":{"type":"line","color":"#c0392b","strokeWidth":0.6,"strokeDash":[1.5,2]},"encoding":{"x":{"field":"w","type":"quantitative"},"y":{"field":"t","type":"quantitative"}}},
 {"data":{"values":[{}]},"mark":{"type":"rule","color":"#888"},"encoding":{"x":{"datum":418},"x2":{"datum":453},"y":{"datum":15}}},
 {"data":{"values":[{}]},"mark":{"type":"text","text":"35 V","align":"left","baseline":"middle","fontSize":10.5,"color":"#333"},"encoding":{"x":{"datum":462},"y":{"datum":15}}},
 {"data":{"values":[{}]},"mark":{"type":"text","text":"rms","align":"left","baseline":"middle","fontSize":8,"dy":3,"color":"#333"},"encoding":{"x":{"datum":517},"y":{"datum":15}}}
]},
{"width":156,"height":48,"layer":[
 {"data":{"name":"B"},"transform":[{"filter":"datum.p=='360' && datum.g!='D'"}],"mark":{"type":"line","color":"#7d62a6","strokeWidth":0.6},"encoding":{"x":{"field":"w","type":"quantitative","scale":{"domain":[400,800],"nice":false,"zero":false},"axis":{"values":[400,450,500,550,600,650,700,750,800],"labels":false,"title":null}},"y":{"field":"t","type":"quantitative","scale":{"domain":[0,1.5],"nice":false},"axis":{"values":[0,0.5,1],"format":".1f","title":null}},"detail":{"field":"g"}}},
 {"data":{"name":"B"},"transform":[{"filter":"datum.p=='360' && datum.g=='D'"}],"mark":{"type":"line","color":"#4a1c70","strokeWidth":1.1},"encoding":{"x":{"field":"w","type":"quantitative"},"y":{"field":"t","type":"quantitative"}}},
 {"data":{"values":[{}]},"mark":{"type":"rule","color":"#333"},"encoding":{"x":{"datum":408},"x2":{"datum":449},"y":{"datum":1.24}}},
 {"data":{"values":[{}]},"mark":{"type":"text","text":"360 nm","align":"left","baseline":"middle","fontSize":9.5,"color":"#333"},"encoding":{"x":{"datum":456},"y":{"datum":1.24}}}
]},
{"width":157,"height":48,"layer":[
 {"data":{"name":"A"},"transform":[{"filter":"datum.p=='40'"}],"mark":{"type":"line","color":"#2a2a2a","strokeWidth":1},"encoding":{"x":{"field":"w","type":"quantitative","scale":{"domain":[400,800],"nice":false,"zero":false},"axis":{"values":[400,450,500,550,600,650,700,750,800],"labels":false,"title":null}},"y":{"field":"t","type":"quantitative","scale":{"domain":[0,100],"nice":false},"axis":{"values":[50,100],"title":"Transmittance (%)"}}}},
 {"data":{"name":"A"},"transform":[{"filter":"datum.p=='40'"}],"mark":{"type":"line","color":"#c0392b","strokeWidth":0.6,"strokeDash":[1.5,2]},"encoding":{"x":{"field":"w","type":"quantitative"},"y":{"field":"t","type":"quantitative"}}},
 {"data":{"values":[{}]},"mark":{"type":"rule","color":"#888"},"encoding":{"x":{"datum":418},"x2":{"datum":453},"y":{"datum":16.7}}},
 {"data":{"values":[{}]},"mark":{"type":"text","text":"40 V","align":"left","baseline":"middle","fontSize":10.5,"color":"#333"},"encoding":{"x":{"datum":462},"y":{"datum":16.7}}},
 {"data":{"values":[{}]},"mark":{"type":"text","text":"rms","align":"left","baseline":"middle","fontSize":8,"dy":3,"color":"#333"},"encoding":{"x":{"datum":517},"y":{"datum":16.7}}}
]},
{"width":156,"height":48,"layer":[
 {"data":{"name":"B"},"transform":[{"filter":"datum.p=='340' && datum.g!='D'"}],"mark":{"type":"line","color":"#7d62a6","strokeWidth":0.6},"encoding":{"x":{"field":"w","type":"quantitative","scale":{"domain":[400,800],"nice":false,"zero":false},"axis":{"values":[400,450,500,550,600,650,700,750,800],"labels":false,"title":null}},"y":{"field":"t","type":"quantitative","scale":{"domain":[0,1.5],"nice":false},"axis":{"values":[0,0.5,1],"format":".1f","title":"Transmittance (normalized)","titlePadding":2.5}},"detail":{"field":"g"}}},
 {"data":{"name":"B"},"transform":[{"filter":"datum.p=='340' && datum.g=='D'"}],"mark":{"type":"line","color":"#4a1c70","strokeWidth":1.1},"encoding":{"x":{"field":"w","type":"quantitative"},"y":{"field":"t","type":"quantitative"}}},
 {"data":{"values":[{}]},"mark":{"type":"rule","color":"#a890c0"},"encoding":{"x":{"datum":410},"x2":{"datum":446},"y":{"datum":1.25}}},
 {"data":{"values":[{}]},"mark":{"type":"text","text":"340 nm","align":"left","baseline":"middle","fontSize":9.5,"color":"#333"},"encoding":{"x":{"datum":456},"y":{"datum":1.25}}}
]},
{"width":157,"height":48,"layer":[
 {"data":{"name":"A"},"transform":[{"filter":"datum.p=='45'"}],"mark":{"type":"line","color":"#2a2a2a","strokeWidth":1},"encoding":{"x":{"field":"w","type":"quantitative","scale":{"domain":[400,800],"nice":false,"zero":false},"axis":{"values":[400,450,500,550,600,650,700,750,800],"labels":false,"title":null}},"y":{"field":"t","type":"quantitative","scale":{"domain":[0,100],"nice":false},"axis":{"values":[50,100],"title":null}}}},
 {"data":{"name":"A"},"transform":[{"filter":"datum.p=='45'"}],"mark":{"type":"line","color":"#c0392b","strokeWidth":0.6,"strokeDash":[1.5,2]},"encoding":{"x":{"field":"w","type":"quantitative"},"y":{"field":"t","type":"quantitative"}}},
 {"data":{"values":[{}]},"mark":{"type":"rule","color":"#888"},"encoding":{"x":{"datum":418},"x2":{"datum":453},"y":{"datum":14}}},
 {"data":{"values":[{}]},"mark":{"type":"text","text":"45 V","align":"left","baseline":"middle","fontSize":10.5,"color":"#333"},"encoding":{"x":{"datum":462},"y":{"datum":14}}},
 {"data":{"values":[{}]},"mark":{"type":"text","text":"rms","align":"left","baseline":"middle","fontSize":8,"dy":3,"color":"#333"},"encoding":{"x":{"datum":517},"y":{"datum":14}}}
]},
{"width":156,"height":48,"layer":[
 {"data":{"name":"B"},"transform":[{"filter":"datum.p=='320' && datum.g!='D'"}],"mark":{"type":"line","color":"#7d62a6","strokeWidth":0.6},"encoding":{"x":{"field":"w","type":"quantitative","scale":{"domain":[400,800],"nice":false,"zero":false},"axis":{"values":[400,450,500,550,600,650,700,750,800],"labels":false,"title":null}},"y":{"field":"t","type":"quantitative","scale":{"domain":[0,1.5],"nice":false},"axis":{"values":[0,0.5,1],"format":".1f","title":null}},"detail":{"field":"g"}}},
 {"data":{"name":"B"},"transform":[{"filter":"datum.p=='320' && datum.g=='D'"}],"mark":{"type":"line","color":"#4a1c70","strokeWidth":1.1},"encoding":{"x":{"field":"w","type":"quantitative"},"y":{"field":"t","type":"quantitative"}}},
 {"data":{"values":[{}]},"mark":{"type":"text","text":"320 nm","align":"left","baseline":"middle","fontSize":9.5,"color":"#333"},"encoding":{"x":{"datum":456},"y":{"datum":1.22}}}
]},
{"width":157,"height":48,"layer":[
 {"data":{"name":"A"},"transform":[{"filter":"datum.p=='50'"}],"mark":{"type":"line","color":"#2a2a2a","strokeWidth":1},"encoding":{"x":{"field":"w","type":"quantitative","scale":{"domain":[400,800],"nice":false,"zero":false},"axis":{"values":[400,450,500,550,600,650,700,750,800],"labelExpr":"datum.value % 100 == 0 ? datum.label : ''","title":["Wavelength (nm)","(a)"]}},"y":{"field":"t","type":"quantitative","scale":{"domain":[0,100],"nice":false},"axis":{"values":[0,50,100],"title":null,"labelOffset":{"condition":{"test":"datum.value == 0","value":-2.5},"value":0}}}}},
 {"data":{"name":"A"},"transform":[{"filter":"datum.p=='50'"}],"mark":{"type":"line","color":"#c0392b","strokeWidth":0.6,"strokeDash":[1.5,2]},"encoding":{"x":{"field":"w","type":"quantitative"},"y":{"field":"t","type":"quantitative"}}},
 {"data":{"values":[{}]},"mark":{"type":"rule","color":"#888"},"encoding":{"x":{"datum":418},"x2":{"datum":453},"y":{"datum":18}}},
 {"data":{"values":[{}]},"mark":{"type":"text","text":"50 V","align":"left","baseline":"middle","fontSize":10.5,"color":"#333"},"encoding":{"x":{"datum":462},"y":{"datum":18}}},
 {"data":{"values":[{}]},"mark":{"type":"text","text":"rms","align":"left","baseline":"middle","fontSize":8,"dy":3,"color":"#333"},"encoding":{"x":{"datum":517},"y":{"datum":18}}}
]},
{"width":156,"height":48,"layer":[
 {"data":{"name":"B"},"transform":[{"filter":"datum.p=='290' && datum.g!='D'"}],"mark":{"type":"line","color":"#7d62a6","strokeWidth":0.6},"encoding":{"x":{"field":"w","type":"quantitative","scale":{"domain":[400,800],"nice":false,"zero":false},"axis":{"values":[400,450,500,550,600,650,700,750,800],"labelExpr":"datum.value % 100 == 0 ? datum.label : ''","title":["Wavelength (nm)","(b)"]}},"y":{"field":"t","type":"quantitative","scale":{"domain":[0,1.5],"nice":false},"axis":{"values":[0,0.5,1],"format":".1f","title":null}},"detail":{"field":"g"}}},
 {"data":{"name":"B"},"transform":[{"filter":"datum.p=='290' && datum.g=='D'"}],"mark":{"type":"line","color":"#4a1c70","strokeWidth":1.1},"encoding":{"x":{"field":"w","type":"quantitative"},"y":{"field":"t","type":"quantitative"}}},
 {"data":{"values":[{}]},"mark":{"type":"rule","color":"#aaa"},"encoding":{"x":{"datum":409},"x2":{"datum":446},"y":{"datum":1.23}}},
 {"data":{"values":[{}]},"mark":{"type":"text","text":"290 nm","align":"left","baseline":"middle","fontSize":9.5,"color":"#333"},"encoding":{"x":{"datum":456},"y":{"datum":1.23}}}
]}
],
"config":{
 "font":"Liberation Sans",
 "view":{"stroke":"#3a3a3a","strokeWidth":1},
 "axis":{"domain":false,"grid":false,"ticks":true,"tickSize":-3,"tickColor":"#3a3a3a","tickWidth":0.8,"labelFont":"Liberation Sans","labelFontSize":9,"labelColor":"#333","labelFlush":false,"labelOverlap":false,"titleFont":"Liberation Sans","titleFontSize":13,"titleFontWeight":"normal","titleColor":"#333"},
 "axisY":{"labelPadding":7,"titlePadding":-3},
 "axisX":{"labelPadding":7,"titlePadding":2,"titleFontSize":12.5,"titleLineHeight":23},
 "text":{"font":"Liberation Sans"}
}
}
